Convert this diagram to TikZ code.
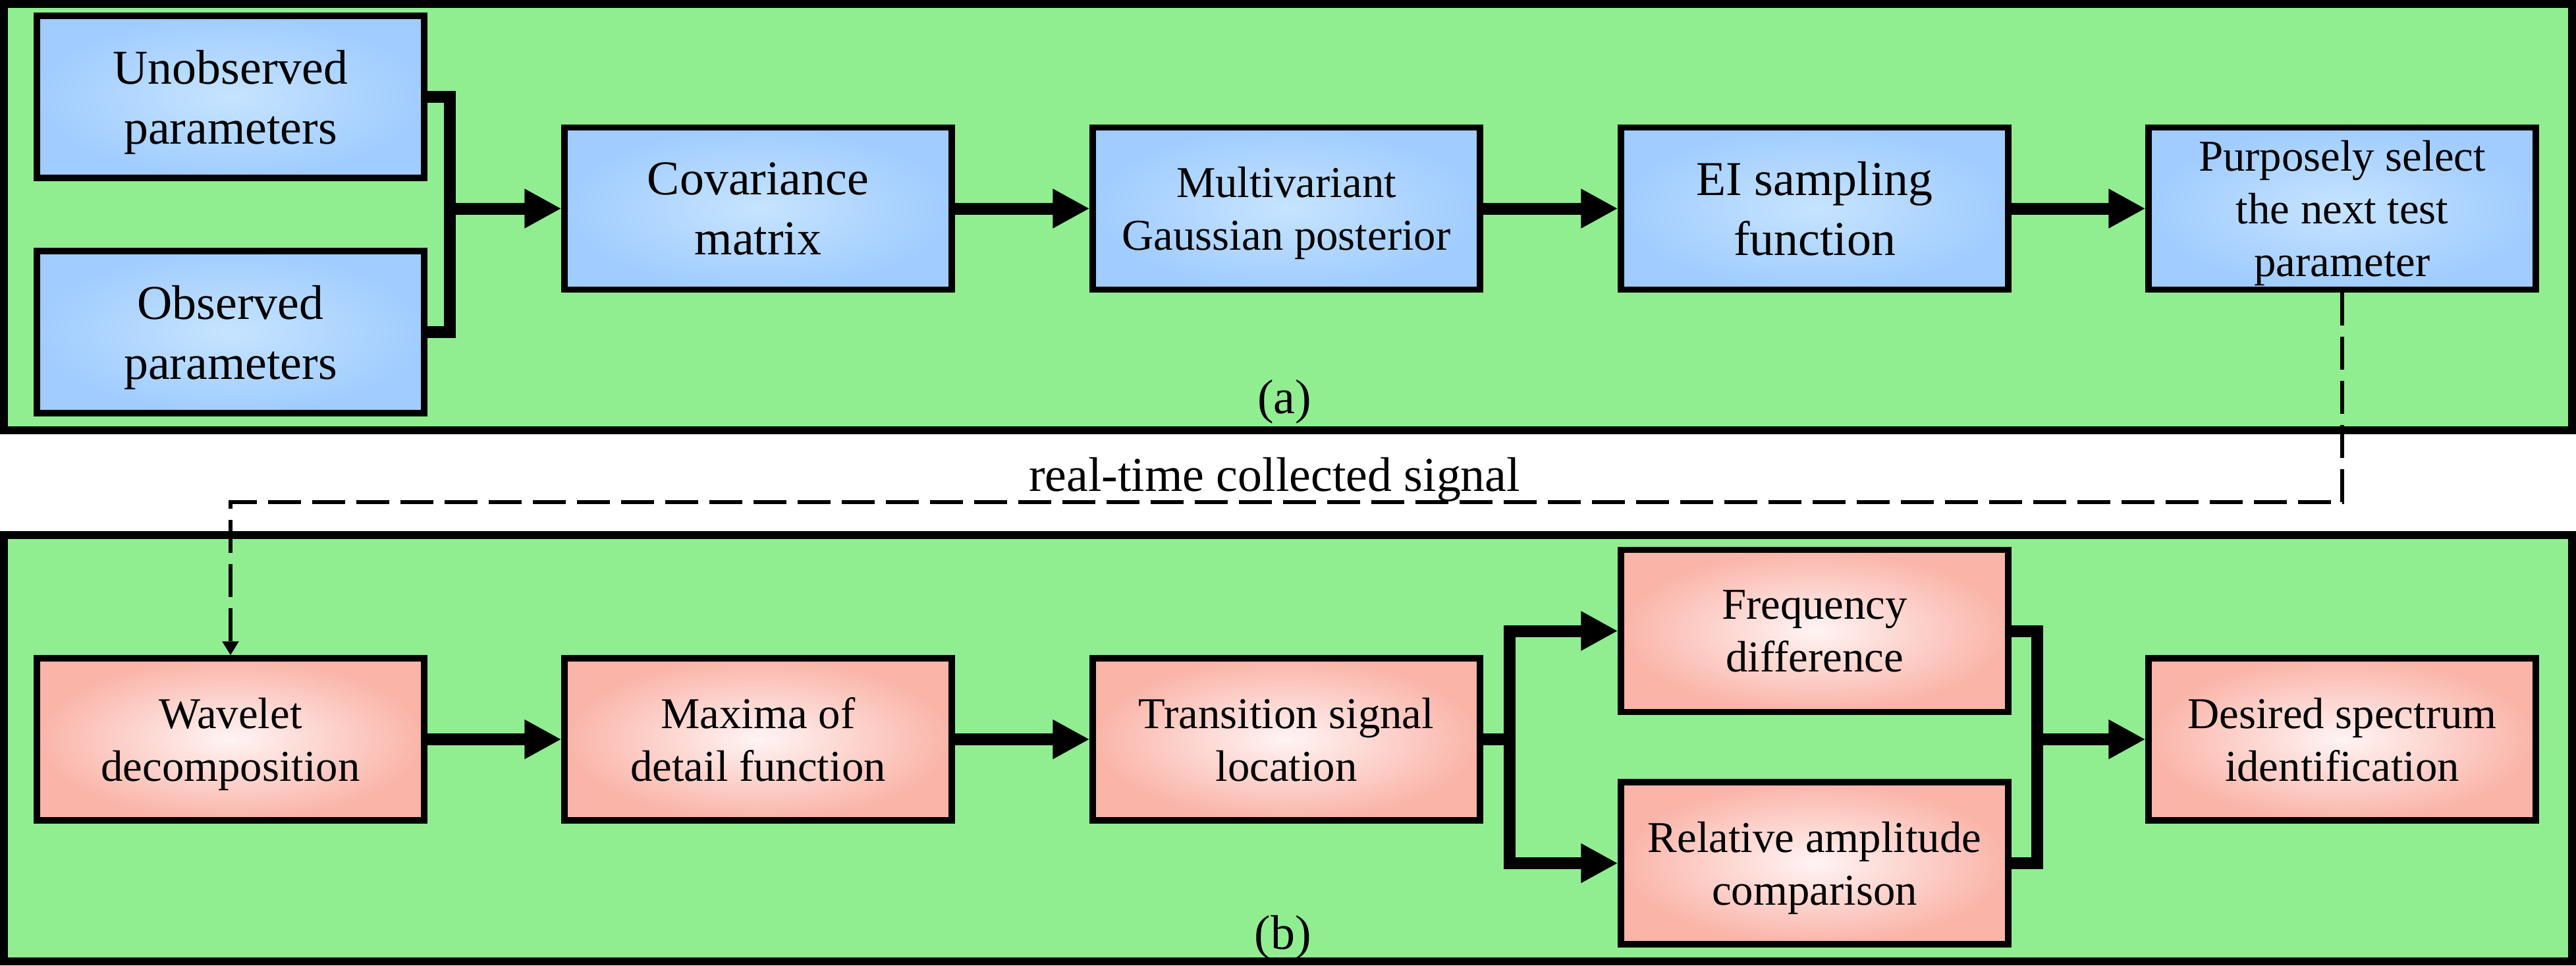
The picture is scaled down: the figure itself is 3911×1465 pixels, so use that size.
\documentclass[tikz,border=0pt]{standalone}
\usepackage{fontspec}
\setmainfont{Liberation Serif}
\usetikzlibrary{arrows.meta}
\definecolor{panelgreen}{RGB}{144,238,144}
\definecolor{blueedge}{RGB}{160,204,255}
\definecolor{bluecenter}{RGB}{198,228,255}
\definecolor{pinkedge}{RGB}{250,180,168}
\definecolor{pinkcenter}{RGB}{255,244,244}
\begin{document}
\begin{tikzpicture}[x=0.1mm,y=-0.1mm,
  panel/.style={draw=black,fill=panelgreen,line width=1.2mm},
  boxbase/.style={draw=black,line width=0.93mm,minimum width=58.8mm,minimum height=24.6mm,inner sep=0pt,align=center,text depth=0pt},
  bluebox/.style={boxbase,inner color=bluecenter,outer color=blueedge},
  pinkbox/.style={boxbase,inner color=pinkcenter,outer color=pinkedge},
  bigtext/.style={font=\fontsize{21pt}{25.9pt}\selectfont},
  smalltext/.style={font=\fontsize{19pt}{22.8pt}\selectfont},
  link/.style={line width=1.8mm,line join=miter},
  flow/.style={link,-{Triangle[length=5.6mm,width=5.6mm]}},
  dashline/.style={line width=0.6mm,dash pattern=on 5mm off 1.7mm,-{Triangle[length=2.1mm,width=2.4mm]}}
]
\useasboundingbox (0,0) rectangle (3911,1465);
% panels
\draw[panel] (6,6) rectangle (3905,653);
\draw[panel] (6,812) rectangle (3905,1459);

% top row
\node[bluebox,bigtext] (unobs) at (350,147) {Unobserved\\parameters};
\node[bluebox,bigtext] (obs) at (350,504) {Observed\\parameters};
\node[bluebox,bigtext] (cov) at (1151,316.5) {Covariance\\matrix};
\node[bluebox,smalltext] (multi) at (1953,316.5) {Multivariant\\Gaussian posterior};
\node[bluebox,bigtext] (ei) at (2755,316.5) {EI sampling\\function};
\node[bluebox,smalltext] (purp) at (3556,316.5) {Purposely select\\the next test\\parameter};

% bottom row
\node[pinkbox,smalltext] (wave) at (350,1122) {Wavelet\\decomposition};
\node[pinkbox,smalltext] (maxi) at (1151,1122) {Maxima of\\detail function};
\node[pinkbox,smalltext] (trans) at (1953,1122) {Transition signal\\location};
\node[pinkbox,smalltext] (freq) at (2755,957.5) {Frequency\\difference};
\node[pinkbox,smalltext] (rel) at (2755,1310) {Relative amplitude\\comparison};
\node[pinkbox,smalltext] (desired) at (3556,1122) {Desired spectrum\\identification};

% top connectors
\coordinate (fork1) at (683,316.5);
\draw[link] (unobs.east) -| (fork1) |- (obs.east);
\draw[flow] (fork1) -- (cov.west);
\draw[flow] (cov) -- (multi);
\draw[flow] (multi) -- (ei);
\draw[flow] (ei) -- (purp);

% bottom connectors
\draw[flow] (wave) -- (maxi);
\draw[flow] (maxi) -- (trans);
\coordinate (split) at (2292,1122);
\draw[link] (trans.east) -- (split);
\draw[flow] (split) |- (freq.west);
\draw[flow] (split) |- (rel.west);
\coordinate (merge) at (3093,1122);
\draw[link] (freq.east) -| (merge) |- (rel.east);
\draw[flow] (merge) -- (desired.west);

% dashed feedback
\coordinate (dturn) at (350,762);
\draw[dashline] (purp.south) |- (dturn) -- (wave.north);

% labels
\node[bigtext,anchor=base,inner sep=0pt] (siglabel) at (1935,745) {real-time collected signal};
\node[bigtext,anchor=base,inner sep=0pt] (lbla) at (1950,627) {(a)};
\node[bigtext,anchor=base,inner sep=0pt] (lblb) at (1948,1440) {(b)};
\end{tikzpicture}
\end{document}
